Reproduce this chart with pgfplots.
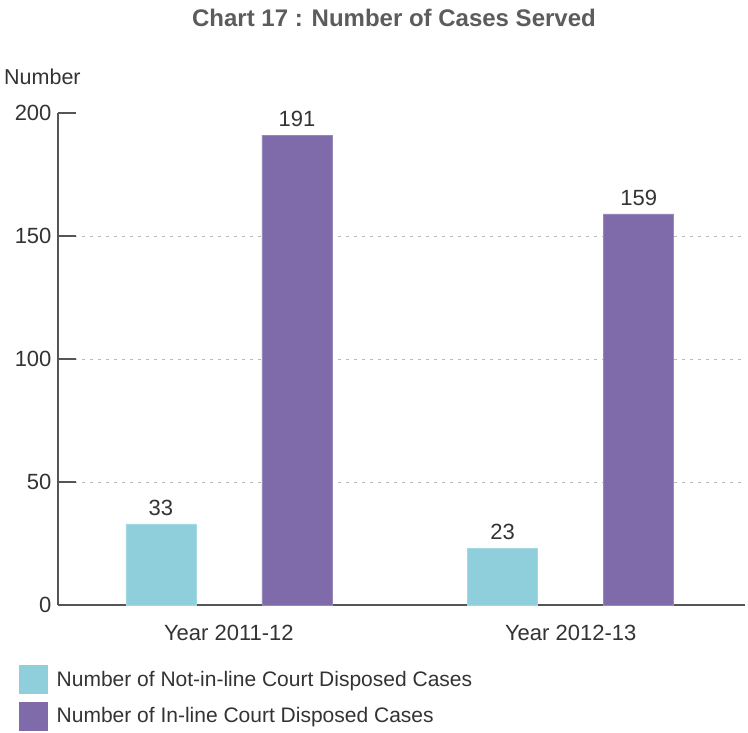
\documentclass[border=0pt]{standalone}
\usepackage{pgfplots}
\pgfplotsset{compat=1.18}
\usepackage{fontspec}
\setmainfont{Liberation Sans}
\definecolor{cyanbar}{HTML}{8ECFDB}
\definecolor{purplebar}{HTML}{7F6BAA}
\definecolor{txt}{HTML}{333333}
\definecolor{axl}{HTML}{555555}
\begin{document}
\begin{tikzpicture}[x=1pt,y=1pt]
\useasboundingbox (0,0) rectangle (748,-733);
\node[font=\fontsize{24}{28}\selectfont\bfseries, text=txt!80!white, inner sep=0pt] at (394,-18) {Chart 17 : Number of Cases Served};
\node[font=\fontsize{21.5}{26}\selectfont, text=txt, anchor=west, inner sep=0pt] at (4,-77) {Number};
\begin{axis}[
  at={(58pt,-605pt)}, anchor=south west,
  scale only axis, width=687pt, height=492pt,
  ymin=0, ymax=200, xmin=-0.5, xmax=1.51,
  axis x line*=bottom, axis y line*=left,
  axis line style={axl, line width=1.2pt},
  ytick={0,50,100,150},
  extra y ticks={200}, extra tick style={grid=none},
  xtick={0,1}, xticklabels={Year 2011-12, Year 2012-13},
  major x tick style={draw=none},
  major y tick style={axl, line width=1.2pt},
  tick align=inside, major tick length=18pt,
  ymajorgrids, grid style={gray!55, dash pattern=on 3pt off 5pt, line width=0.9pt},
  /pgf/number format/assume math mode=true,
  tick label style={font=\fontsize{22}{26}\selectfont, text=txt},
  yticklabel style={xshift=-3pt},
  xticklabel style={yshift=1pt},
  ybar, bar width=70pt,
  nodes near coords,
  every node near coord/.append style={font=\fontsize{22}{26}\selectfont, text=txt, yshift=5pt},
  legend style={at={(-0.061,-0.118)}, anchor=north west, draw=none, fill=none,
     font=\fontsize{21}{25}\selectfont, text=txt, row sep=8pt,
     /tikz/every odd column/.append style={column sep=7pt}},
  legend cell align=left,
  clip=false,
]
\addplot[fill=cyanbar, draw=cyanbar!80!white, bar shift=-68pt,
  legend image code/.code={\fill[cyanbar] (0pt,-14pt) rectangle (28pt,14pt);}]
  coordinates {(0,33) (1,23)};
\addlegendentry{Number of Not-in-line Court Disposed Cases}
\addplot[fill=purplebar, draw=purplebar!80!white, bar shift=68pt,
  legend image code/.code={\fill[purplebar] (0pt,-14pt) rectangle (28pt,14pt);}]
  coordinates {(0,191) (1,159)};
\addlegendentry{Number of In-line Court Disposed Cases}
\end{axis}
\end{tikzpicture}
\end{document}
